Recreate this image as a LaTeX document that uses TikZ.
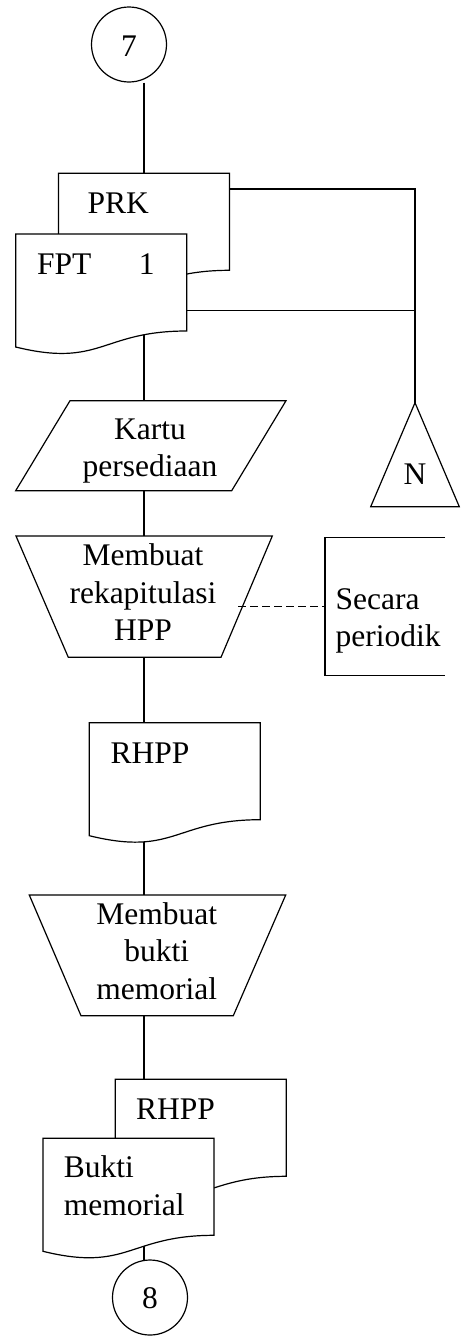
\documentclass[tikz,border=0pt]{standalone}
\usepackage{fontspec}
\setmainfont{Liberation Serif}
\newcommand\docshape[3]{%
  \path (#2,#3) coordinate (#1);
  \filldraw[outl] (#1) -- ++(171,0) -- ++(0,97) .. controls +(-85.5,0) and +(85.5,21) .. ++(-171,16) -- cycle;}
\begin{document}
\begin{tikzpicture}[x=1pt,y=-1pt,line width=1.2pt,
  outl/.style={draw=black,fill=white,line join=miter},
  circ/.style={circle,draw=black,fill=white,minimum size=75pt,inner sep=0pt},
  txt/.style={inner sep=0pt,anchor=base,align=center,font=\fontsize{31.5}{37.5}\selectfont},
  txtl/.style={txt,anchor=base west,align=left},
  dashconn/.style={draw=black,dash pattern=on 8pt off 4pt,line width=1pt}]
\useasboundingbox (0,0) rectangle (464,1336);
% connection points
\coordinate (prkTop) at (144,173.3);
\coordinate (fptIn) at (144,320);
\coordinate (kartuTop) at (144,400.7);
\coordinate (kartuBot) at (144,490.7);
\coordinate (hppTop) at (144,536);
\coordinate (hppBot) at (144,657.3);
\coordinate (rhppTop) at (144,722.7);
\coordinate (rhppIn) at (144,810);
\coordinate (bmTop) at (144,895);
\coordinate (bmBot) at (144,1015.7);
\coordinate (rhppbTop) at (144,1079.3);
\coordinate (buktiIn) at (144,1230);
\coordinate (c8Top) at (144,1262);
\coordinate (prkR) at (229.5,189);
\coordinate (fptR) at (187.3,310.7);
\coordinate (junA) at (415,189);
\coordinate (junB) at (415,310.7);
\coordinate (nTop) at (415,402.7);
\coordinate (dashL) at (238,606);
\coordinate (noteL) at (325,606);
\node[circ] (c7) at (129,44.5) {};
% connectors
\draw (c7.south -| prkTop) -- (prkTop);
\draw (fptIn) -- (kartuTop);
\draw (kartuBot) -- (hppTop);
\draw (hppBot) -- (rhppTop);
\draw (rhppIn) -- (bmTop);
\draw (bmBot) -- (rhppbTop);
\draw (prkR) -- (junA) -- (nTop);
\draw (fptR) -- (junB);
\draw (buktiIn) -- (c8Top);
% shapes
\docshape{prk}{58.5}{173.3}
\docshape{fpt}{15.7}{234}
\filldraw[outl] (70,400.7) coordinate (kartu) -- (286,400.7) -- (231.7,490.7) -- (15.7,490.7) -- cycle;
\filldraw[outl] (16,536) coordinate (hpp) -- (272.3,536) -- (221,657.3) -- (68.3,657.3) -- cycle;
\docshape{rhppa}{89.3}{722.7}
\filldraw[outl] (29.3,895) coordinate (bm) -- (285.7,895) -- (233.3,1015.7) -- (81,1015.7) -- cycle;
\docshape{rhppb}{115.3}{1079.3}
\docshape{bukti}{43}{1138.3}
\filldraw[outl] (nTop) -- (459.3,506.7) -- (370.7,506.7) -- cycle;
\draw (445,537.7) -- (325,537.7) -- (noteL) -- (325,675.3) -- (445,675.3);
\node[circ] (c8) at (150,1297.5) {};
\path[dashconn] (dashL) -- (noteL);
% texts (multi-line nodes: base = last line)
\node[txt] (t7) at (129,56) {7};
\node[txtl] (tprk) at (87,213.3) {PRK};
\node[txtl] (tfpt) at (36.5,274.7) {FPT};
\node[txt] (tone) at (146.7,274.7) {1};
\node[txt] (tkartu) at (150,476.7) {Kartu\\persediaan};
\node[txt] (thpp) at (143,640.7) {Membuat\\rekapitulasi\\HPP};
\node[txtl] (tnote) at (335,646.7) {Secara\\periodik};
\node[txt] (tn) at (415,484.3) {N};
\node[txt] (trhppa) at (150,763.3) {RHPP};
\node[txt] (tbm) at (156.7,999.3) {Membuat\\bukti\\memorial};
\node[txt] (trhppb) at (175.5,1119) {RHPP};
\node[txtl] (tbukti) at (63.3,1215) {Bukti\\memorial};
\node[txt] (t8) at (150,1308.3) {8};
\end{tikzpicture}
\end{document}
